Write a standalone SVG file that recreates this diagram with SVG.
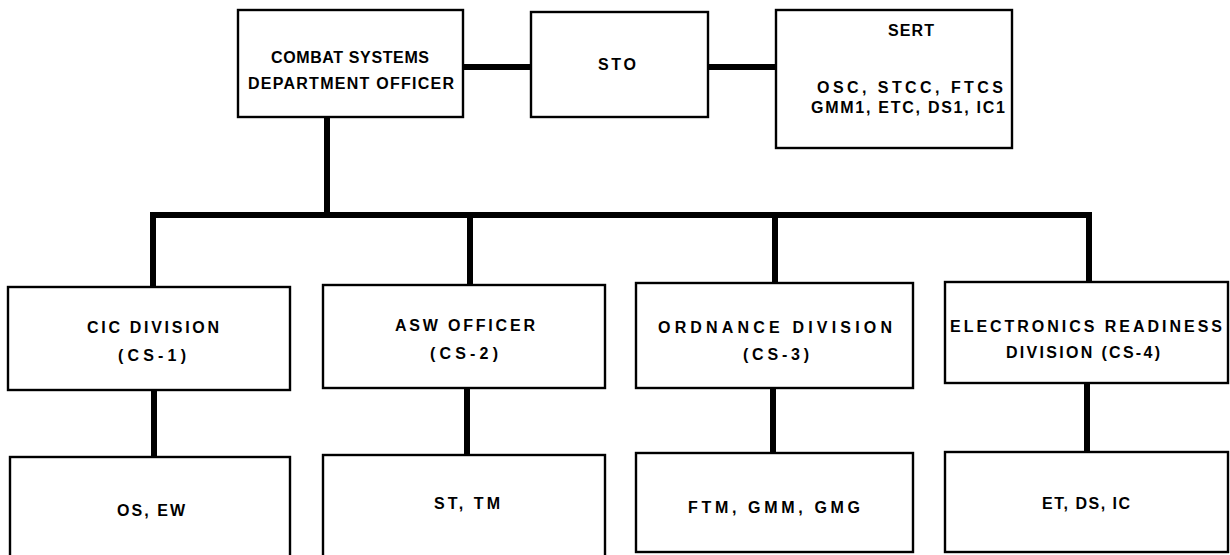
<svg xmlns="http://www.w3.org/2000/svg" width="1230" height="555" viewBox="0 0 1230 555">
<style>
.box{fill:#fff;stroke:#000;stroke-width:2.4}
.con{fill:none;stroke:#000;stroke-width:6;stroke-linejoin:miter}
text{font-family:"Liberation Sans",Arial,sans-serif;font-size:16px;font-weight:bold;fill:#000;text-anchor:middle}
</style>
<rect width="1230" height="555" fill="#fff"/>
<g id="connectors">
<path class="con" d="M463 67H531M708 67H776"/>
<path class="con" d="M327 117V215"/>
<path class="con" d="M153 287V215H1089V283"/>
<path class="con" d="M470 215V285M775 215V283"/>
<path class="con" d="M154 390V457M467 388V455M773 388V453M1087 383V452"/>
</g>
<g id="csdo"><rect class="box" x="238" y="10" width="225" height="107"/><text x="350" y="63" textLength="158" lengthAdjust="spacing">COMBAT SYSTEMS</text><text x="351" y="89" textLength="206" lengthAdjust="spacing">DEPARTMENT OFFICER</text></g>
<g id="sto"><rect class="box" x="531" y="12" width="177" height="105"/><text x="617" y="70" textLength="38" lengthAdjust="spacing">STO</text></g>
<g id="sert"><rect class="box" x="776" y="10" width="236" height="138"/><text x="911" y="36" textLength="46" lengthAdjust="spacing">SERT</text><text x="910" y="93" textLength="186" lengthAdjust="spacing">OSC, STCC, FTCS</text><text x="908" y="113" textLength="194" lengthAdjust="spacing">GMM1, ETC, DS1, IC1</text></g>
<g id="cs1"><rect class="box" x="8" y="287" width="282" height="103"/><text x="153" y="333" textLength="132" lengthAdjust="spacing">CIC DIVISION</text><text x="152" y="361" textLength="68" lengthAdjust="spacing">(CS-1)</text></g>
<g id="cs2"><rect class="box" x="323" y="285" width="282" height="103"/><text x="465" y="331" textLength="140" lengthAdjust="spacing">ASW OFFICER</text><text x="464" y="359" textLength="68" lengthAdjust="spacing">(CS-2)</text></g>
<g id="cs3"><rect class="box" x="636" y="283" width="277" height="105"/><text x="775" y="333" textLength="234" lengthAdjust="spacing">ORDNANCE DIVISION</text><text x="776" y="360" textLength="66" lengthAdjust="spacing">(CS-3)</text></g>
<g id="cs4"><rect class="box" x="945" y="282" width="283" height="101"/><text x="1086" y="332" textLength="272" lengthAdjust="spacing">ELECTRONICS READINESS</text><text x="1083" y="358" textLength="154" lengthAdjust="spacing">DIVISION (CS-4)</text></g>
<g id="r1"><rect class="box" x="10" y="457" width="280" height="110"/><text x="151" y="516" textLength="68" lengthAdjust="spacing">OS, EW</text></g>
<g id="r2"><rect class="box" x="323" y="455" width="282" height="110"/><text x="467" y="509" textLength="66" lengthAdjust="spacing">ST, TM</text></g>
<g id="r3"><rect class="box" x="636" y="453" width="277" height="99"/><text x="774" y="513" textLength="172" lengthAdjust="spacing">FTM, GMM, GMG</text></g>
<g id="r4"><rect class="box" x="945" y="452" width="283" height="100"/><text x="1086" y="509" textLength="88" lengthAdjust="spacing">ET, DS, IC</text></g>
</svg>
